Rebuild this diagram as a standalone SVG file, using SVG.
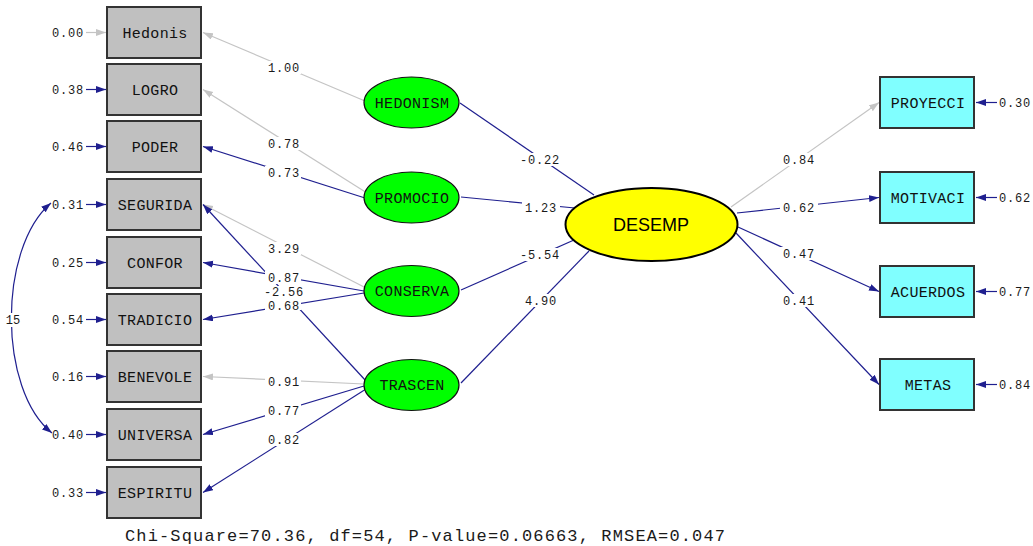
<svg xmlns="http://www.w3.org/2000/svg" width="1033" height="546" viewBox="0 0 1033 546">
<style>
.bg{fill:#fff}
.obs{fill:#c0c0c0;stroke:#333;stroke-width:2}
.obr{fill:#80ffff;stroke:#333;stroke-width:2}
.lat{fill:#00ff00;stroke:#111;stroke-width:1.2}
.des{fill:#ffff00;stroke:#000;stroke-width:2}
.nt{font-family:"Liberation Mono",monospace;font-size:15px;letter-spacing:0.3px;fill:#111;text-anchor:middle}
.dt{font-family:"Liberation Sans",Arial,sans-serif;font-size:18px;fill:#000;text-anchor:middle}
.b{stroke:#1f1f8f;stroke-width:1.2;fill:none}
.g{stroke:#c4c4c4;stroke-width:1.2;fill:none}
.bm{marker-end:url(#ab)}
.gm{marker-end:url(#ag)}
.bx{fill:#fff}
.lbl{font-family:"Liberation Mono",monospace;font-size:12px;letter-spacing:0.8px;fill:#1a1a1a;text-anchor:middle}
.el{font-family:"Liberation Mono",monospace;font-size:12px;letter-spacing:0.8px;fill:#1a1a1a;text-anchor:end}
.er{font-family:"Liberation Mono",monospace;font-size:12px;letter-spacing:0.8px;fill:#1a1a1a;text-anchor:start}
.ft{font-family:"Liberation Mono",monospace;font-size:17px;fill:#1a1a1a}
</style>
<defs>
<marker id="ab" markerUnits="userSpaceOnUse" markerWidth="11" markerHeight="8" refX="10" refY="3.5" orient="auto">
<path d="M0,0 L10,3.5 L0,7 z" fill="#1f1f8f"/>
</marker>
<marker id="ag" markerUnits="userSpaceOnUse" markerWidth="11" markerHeight="8" refX="10" refY="3.5" orient="auto">
<path d="M0,0 L10,3.5 L0,7 z" fill="#c4c4c4"/>
</marker>
<marker id="ab2" markerUnits="userSpaceOnUse" markerWidth="11" markerHeight="8" refX="10" refY="3.5" orient="auto-start-reverse">
<path d="M0,0 L10,3.5 L0,7 z" fill="#1f1f8f"/>
</marker>
</defs>
<rect class="bg" x="0" y="0" width="1033" height="546"/>

<g id="connectors">
<line class="g gm" x1="86" y1="32.5" x2="106" y2="32.5"/>
<line class="b bm" x1="86" y1="89.5" x2="106" y2="89.5"/>
<line class="b bm" x1="86" y1="146.5" x2="106" y2="146.5"/>
<line class="b bm" x1="86" y1="204.5" x2="106" y2="204.5"/>
<line class="b bm" x1="86" y1="262.5" x2="106" y2="262.5"/>
<line class="b bm" x1="86" y1="319.5" x2="106" y2="319.5"/>
<line class="b bm" x1="86" y1="376.5" x2="106" y2="376.5"/>
<line class="b bm" x1="86" y1="434.5" x2="106" y2="434.5"/>
<line class="b bm" x1="86" y1="492.5" x2="106" y2="492.5"/>
<line class="b bm" x1="997" y1="102.5" x2="976" y2="102.5"/>
<line class="b bm" x1="997" y1="197.5" x2="976" y2="197.5"/>
<line class="b bm" x1="997" y1="291.5" x2="976" y2="291.5"/>
<line class="b bm" x1="997" y1="384.5" x2="976" y2="384.5"/>
<path class="b" d="M51,203 C-2,248 -2,390 52,433" marker-start="url(#ab2)" marker-end="url(#ab2)"/>
<line class="g gm" x1="365" y1="101" x2="203" y2="32.5"/>
<line class="g gm" x1="367" y1="193" x2="203" y2="89.5"/>
<line class="b bm" x1="365" y1="198" x2="203" y2="146.5"/>
<line class="g gm" x1="366" y1="288" x2="203" y2="204.5"/>
<line class="b bm" x1="364" y1="291" x2="203" y2="262.5"/>
<line class="b bm" x1="364" y1="293" x2="203" y2="319.5"/>
<line class="b bm" x1="366" y1="381" x2="203" y2="204.5"/>
<line class="g gm" x1="364" y1="384" x2="203" y2="376.5"/>
<line class="b bm" x1="364" y1="386" x2="203" y2="434.5"/>
<line class="b bm" x1="366" y1="389" x2="203" y2="492.5"/>
<line class="b" x1="460" y1="103" x2="594" y2="195"/>
<line class="b" x1="461" y1="197" x2="575" y2="208"/>
<line class="b" x1="461" y1="290" x2="574" y2="240"/>
<line class="b" x1="461" y1="383" x2="589" y2="251"/>
<line class="g gm" x1="731" y1="207" x2="879" y2="102.5"/>
<line class="b bm" x1="737" y1="213" x2="879" y2="197.5"/>
<line class="b bm" x1="738" y1="227" x2="879" y2="291.5"/>
<line class="b bm" x1="736" y1="233" x2="879" y2="384.5"/>
</g>

<g id="labels">
<rect class="bx" x="5" y="313" width="16" height="14"/><text class="lbl" x="13" y="324" style="font-size:12px;letter-spacing:0">15</text>
<rect class="bx" x="265" y="61" width="36" height="13"/><text class="lbl" x="284" y="71.5">1.00</text>
<rect class="bx" x="265" y="137" width="36" height="13"/><text class="lbl" x="284" y="147.5">0.78</text>
<rect class="bx" x="265" y="166" width="36" height="13"/><text class="lbl" x="284" y="176.5">0.73</text>
<rect class="bx" x="265" y="242" width="36" height="13"/><text class="lbl" x="284" y="252.5">3.29</text>
<rect class="bx" x="265" y="271" width="36" height="13"/><text class="lbl" x="284" y="281.5">0.87</text>
<rect class="bx" x="262" y="286" width="44" height="12"/><text class="lbl" x="284" y="296">-2.56</text>
<rect class="bx" x="265" y="296" width="36" height="14"/><text class="lbl" x="284" y="310">0.68</text>
<rect class="bx" x="265" y="375" width="36" height="13"/><text class="lbl" x="284" y="385.5">0.91</text>
<rect class="bx" x="265" y="404" width="36" height="13"/><text class="lbl" x="284" y="414.5">0.77</text>
<rect class="bx" x="265" y="433" width="36" height="13"/><text class="lbl" x="284" y="443.5">0.82</text>
<rect class="bx" x="518" y="153" width="44" height="13"/><text class="lbl" x="540" y="163.5">-0.22</text>
<rect class="bx" x="522" y="201" width="38" height="13"/><text class="lbl" x="541" y="211.5">1.23</text>
<rect class="bx" x="518" y="248" width="44" height="13"/><text class="lbl" x="540" y="258.5">-5.54</text>
<rect class="bx" x="522" y="294" width="38" height="13"/><text class="lbl" x="541" y="304.5">4.90</text>
<rect class="bx" x="780" y="153" width="38" height="13"/><text class="lbl" x="799" y="163.5">0.84</text>
<rect class="bx" x="780" y="201" width="38" height="13"/><text class="lbl" x="799" y="211.5">0.62</text>
<rect class="bx" x="780" y="247" width="38" height="13"/><text class="lbl" x="799" y="257.5">0.47</text>
<rect class="bx" x="780" y="294" width="38" height="13"/><text class="lbl" x="799" y="304.5">0.41</text>
<text class="el" x="84" y="36.5">0.00</text>
<text class="el" x="84" y="93.5">0.38</text>
<text class="el" x="84" y="150.5">0.46</text>
<text class="el" x="84" y="208.5">0.31</text>
<text class="el" x="84" y="266.5">0.25</text>
<text class="el" x="84" y="323.5">0.54</text>
<text class="el" x="84" y="380.5">0.16</text>
<text class="el" x="84" y="438.5">0.40</text>
<text class="el" x="84" y="496.5">0.33</text>
<text class="er" x="999" y="106.5">0.30</text>
<text class="er" x="999" y="201.5">0.62</text>
<text class="er" x="999" y="295.5">0.77</text>
<text class="er" x="999" y="388.5">0.84</text>
</g>

<g id="n-hedonis"><rect class="obs" x="107" y="7" width="94" height="51"/><text class="nt" x="155" y="37.5">Hedonis</text></g>
<g id="n-logro"><rect class="obs" x="107" y="64" width="94" height="51"/><text class="nt" x="155" y="94.5">LOGRO</text></g>
<g id="n-poder"><rect class="obs" x="107" y="121" width="94" height="51"/><text class="nt" x="155" y="151.5">PODER</text></g>
<g id="n-segurida"><rect class="obs" x="107" y="179" width="94" height="51"/><text class="nt" x="155" y="209.5">SEGURIDA</text></g>
<g id="n-confor"><rect class="obs" x="107" y="237" width="94" height="51"/><text class="nt" x="155" y="267.5">CONFOR</text></g>
<g id="n-tradicio"><rect class="obs" x="107" y="294" width="94" height="51"/><text class="nt" x="155" y="324.5">TRADICIO</text></g>
<g id="n-benevole"><rect class="obs" x="107" y="351" width="94" height="51"/><text class="nt" x="155" y="381.5">BENEVOLE</text></g>
<g id="n-universa"><rect class="obs" x="107" y="409" width="94" height="51"/><text class="nt" x="155" y="439.5">UNIVERSA</text></g>
<g id="n-espiritu"><rect class="obs" x="107" y="467" width="94" height="51"/><text class="nt" x="155" y="497.5">ESPIRITU</text></g>

<g id="n-hedonism"><ellipse class="lat" cx="411.5" cy="102.5" rx="47.5" ry="25.5"/><text class="nt" x="412" y="107.5">HEDONISM</text></g>
<g id="n-promocio"><ellipse class="lat" cx="411.5" cy="197.5" rx="47.5" ry="25.5"/><text class="nt" x="412" y="202.5">PROMOCIO</text></g>
<g id="n-conserva"><ellipse class="lat" cx="411.5" cy="291" rx="47.5" ry="25.5"/><text class="nt" x="412" y="296">CONSERVA</text></g>
<g id="n-trascen"><ellipse class="lat" cx="411.5" cy="385" rx="47.5" ry="25.5"/><text class="nt" x="412" y="390">TRASCEN</text></g>

<g id="n-desemp"><ellipse class="des" cx="651.5" cy="224.5" rx="86" ry="36.5"/><text class="dt" x="651" y="230.5">DESEMP</text></g>

<g id="n-proyecci"><rect class="obr" x="880" y="77" width="94" height="51"/><text class="nt" x="928" y="107.5">PROYECCI</text></g>
<g id="n-motivaci"><rect class="obr" x="880" y="172" width="94" height="51"/><text class="nt" x="928" y="202.5">MOTIVACI</text></g>
<g id="n-acuerdos"><rect class="obr" x="880" y="266" width="94" height="51"/><text class="nt" x="928" y="296.5">ACUERDOS</text></g>
<g id="n-metas"><rect class="obr" x="880" y="359" width="94" height="51"/><text class="nt" x="928" y="389.5">METAS</text></g>

<text class="ft" x="125" y="541" textLength="600" lengthAdjust="spacing">Chi-Square=70.36, df=54, P-value=0.06663, RMSEA=0.047</text>
</svg>
